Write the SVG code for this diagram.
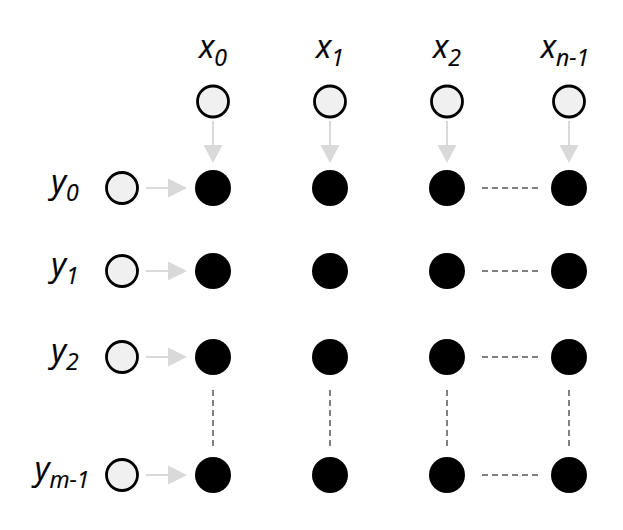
<svg xmlns="http://www.w3.org/2000/svg" width="623" height="530" viewBox="0 0 623 530">
<style>
.in{fill:#f0f0f0;stroke:#000;stroke-width:2.8}
.out{fill:#000}
.arr{stroke:#d9d9d9;stroke-width:2;fill:none}
.ah{fill:#d9d9d9}
.dash{stroke:#808080;stroke-width:2;stroke-dasharray:6 4;fill:none}
.lbl{font-family:"Open Sans","Liberation Sans",sans-serif;font-style:italic;font-size:32px;fill:#000;text-anchor:middle;stroke:#000;stroke-width:0.2}
.sub{font-size:23px}
</style>
<rect width="623" height="530" fill="#fff"/>
<g id="labels">
<text class="lbl" x="213" y="58">x<tspan class="sub" dy="8">0</tspan></text>
<text class="lbl" x="330" y="58">x<tspan class="sub" dy="8">1</tspan></text>
<text class="lbl" x="447" y="58">x<tspan class="sub" dy="8">2</tspan></text>
<text class="lbl" x="565" y="58">x<tspan class="sub" dy="8">n-1</tspan></text>
<text class="lbl" x="65" y="193">y<tspan class="sub" dy="8">0</tspan></text>
<text class="lbl" x="65" y="276">y<tspan class="sub" dy="8">1</tspan></text>
<text class="lbl" x="65" y="362">y<tspan class="sub" dy="8">2</tspan></text>
<text class="lbl" x="62" y="480">y<tspan class="sub" dy="8">m-1</tspan></text>
</g>
<g id="connectors">
<line class="arr" x1="213" y1="121" x2="213" y2="146"/><polygon class="ah" points="203.5,145 222.5,145 213,163"/>
<line class="arr" x1="330" y1="121" x2="330" y2="146"/><polygon class="ah" points="320.5,145 339.5,145 330,163"/>
<line class="arr" x1="447" y1="121" x2="447" y2="146"/><polygon class="ah" points="437.5,145 456.5,145 447,163"/>
<line class="arr" x1="569" y1="121" x2="569" y2="146"/><polygon class="ah" points="559.5,145 578.5,145 569,163"/>
<line class="arr" x1="146" y1="188" x2="169" y2="188"/><polygon class="ah" points="168,178.5 168,197.5 187,188"/>
<line class="arr" x1="146" y1="271" x2="169" y2="271"/><polygon class="ah" points="168,261.5 168,280.5 187,271"/>
<line class="arr" x1="146" y1="357" x2="169" y2="357"/><polygon class="ah" points="168,347.5 168,366.5 187,357"/>
<line class="arr" x1="146" y1="475" x2="169" y2="475"/><polygon class="ah" points="168,465.5 168,484.5 187,475"/>
<line class="dash" x1="482" y1="188" x2="540" y2="188"/>
<line class="dash" x1="482" y1="271" x2="540" y2="271"/>
<line class="dash" x1="482" y1="357" x2="540" y2="357"/>
<line class="dash" x1="482" y1="475" x2="540" y2="475"/>
<line class="dash" x1="213" y1="390" x2="213" y2="448"/>
<line class="dash" x1="330" y1="390" x2="330" y2="448"/>
<line class="dash" x1="447" y1="390" x2="447" y2="448"/>
<line class="dash" x1="569" y1="390" x2="569" y2="448"/>
</g>
<g id="inputs-x">
<circle class="in" cx="213" cy="101.5" r="15.5"/>
<circle class="in" cx="330" cy="101.5" r="15.5"/>
<circle class="in" cx="447" cy="101.5" r="15.5"/>
<circle class="in" cx="569" cy="101.5" r="15.5"/>
</g>
<g id="inputs-y">
<circle class="in" cx="122" cy="188" r="15.5"/>
<circle class="in" cx="122" cy="271" r="15.5"/>
<circle class="in" cx="122" cy="357" r="15.5"/>
<circle class="in" cx="122" cy="475" r="15.5"/>
</g>
<g id="grid">
<circle class="out" cx="213" cy="188" r="18"/><circle class="out" cx="330" cy="188" r="18"/><circle class="out" cx="447" cy="188" r="18"/><circle class="out" cx="569" cy="188" r="18"/>
<circle class="out" cx="213" cy="271" r="18"/><circle class="out" cx="330" cy="271" r="18"/><circle class="out" cx="447" cy="271" r="18"/><circle class="out" cx="569" cy="271" r="18"/>
<circle class="out" cx="213" cy="357" r="18"/><circle class="out" cx="330" cy="357" r="18"/><circle class="out" cx="447" cy="357" r="18"/><circle class="out" cx="569" cy="357" r="18"/>
<circle class="out" cx="213" cy="475" r="18"/><circle class="out" cx="330" cy="475" r="18"/><circle class="out" cx="447" cy="475" r="18"/><circle class="out" cx="569" cy="475" r="18"/>
</g>
</svg>
